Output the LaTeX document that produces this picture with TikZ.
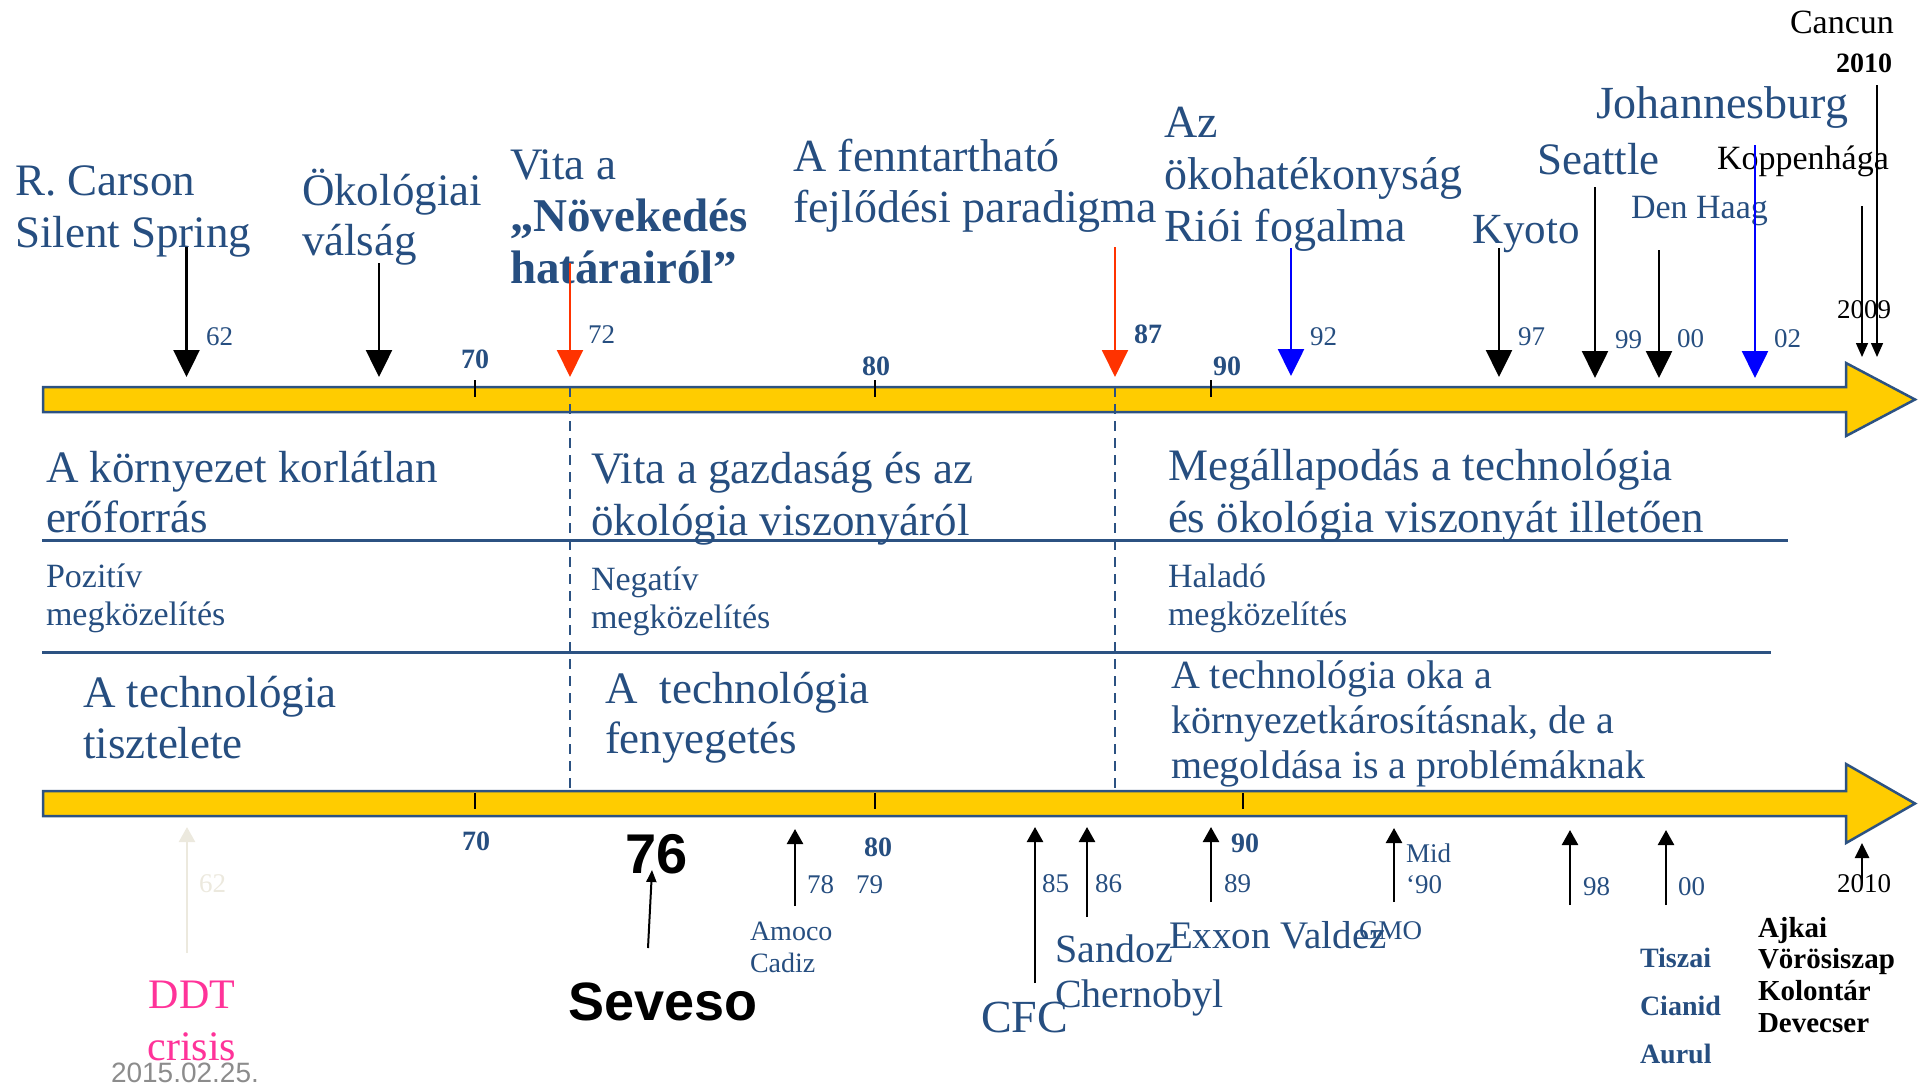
\documentclass[tikz,border=0pt]{standalone}
\usepackage{fontspec}
\setmainfont{Liberation Serif}
\newfontfamily\sansf{Liberation Sans}
\usetikzlibrary{arrows.meta}
\definecolor{tblue}{RGB}{38,78,128}
\definecolor{barline}{RGB}{44,82,130}
\definecolor{baryel}{RGB}{255,204,0}
\definecolor{redarr}{RGB}{255,51,0}
\definecolor{bluearr}{RGB}{0,0,255}
\definecolor{ddtpink}{RGB}{255,51,153}
\definecolor{faint}{RGB}{236,233,222}
\definecolor{dategray}{RGB}{140,140,140}
\begin{document}
\begin{tikzpicture}[x=1pt,y=-1pt,
  lbl/.style={inner sep=0pt, outer sep=0pt, anchor=base west, text=tblue},
  blk/.style={lbl, text=black},
  fXL/.style={font=\fontsize{46}{52}\selectfont},
  fL/.style={font=\fontsize{45}{52}\selectfont},
  fLB/.style={font=\fontsize{47}{52}\selectfont\bfseries},
  fM/.style={font=\fontsize{40}{45}\selectfont},
  fS/.style={font=\fontsize{34}{38}\selectfont},
  fN/.style={font=\fontsize{27}{30}\selectfont},
  fNB/.style={font=\fontsize{28}{30}\selectfont\bfseries},
  fSB/.style={font=\fontsize{28}{32}\selectfont\bfseries},
  fKB/.style={font=\fontsize{29}{32}\selectfont\bfseries},
  bar/.style={fill=baryel, draw=barline, line width=2.5pt, line join=miter},
  hline/.style={draw=barline, line width=3pt},
  dline/.style={draw=barline, line width=2pt, dash pattern=on 10pt off 7pt},
  tick/.style={draw=black, line width=2.5pt},
  toparr/.style={line width=2.5pt, -{Triangle[width=26pt,length=27pt]}},
  redar/.style={draw=redarr, line width=2pt, -{Triangle[width=26pt,length=27pt]}, redarr},
  bluear/.style={draw=bluearr, line width=2.5pt, -{Triangle[width=26pt,length=27pt]}, bluearr},
  thinarr/.style={line width=1.5pt, -{Triangle[width=12pt,length=14pt]}},
  botarr/.style={line width=2.5pt, -{Triangle[width=16pt,length=15pt]}}
]
\useasboundingbox (0,0) rectangle (1918,1085);

% ---- timeline bars
\path[bar] (43,387) -- (1846,387) -- (1846,363) -- (1915,399.5) -- (1846,436) -- (1846,412) -- (43,412) -- cycle;
\path[bar] (43,791) -- (1846,791) -- (1846,764) -- (1915,803.5) -- (1846,843) -- (1846,816) -- (43,816) -- cycle;

% ticks
\draw[tick] (475,380) -- (475,397);
\draw[tick] (875,380) -- (875,397);
\draw[tick] (1211,380) -- (1211,397);
\draw[tick] (475,793) -- (475,809);
\draw[tick] (875,793) -- (875,809);
\draw[tick] (1243,793) -- (1243,809);

% dashed separators and horizontal rules
\coordinate (d1t) at (570,387); \coordinate (d1b) at (570,790);
\coordinate (d2t) at (1115,387); \coordinate (d2b) at (1115,790);
\draw[dline] (d1t) -- (d1b);
\draw[dline] (d2t) -- (d2b);
\coordinate (h1a) at (42,540); \coordinate (h1b) at (1788,540);
\coordinate (h2a) at (42,652); \coordinate (h2b) at (1771,652);
\draw[hline] (h1a) -- (h1b);
\draw[hline] (h2a) -- (h2b);

% ---- top labels
\node[lbl,fL] (carson1) at (15,195) {R. Carson};
\node[lbl,fL] (carson2) at (15,247) {Silent Spring};
\node[lbl,fL] (okol1) at (302,205) {Ökológiai};
\node[lbl,fL] (okol2) at (302,255) {válság};
\node[lbl,fL] (vita1) at (510,179) {Vita a};
\node[lbl,fLB] (vita2) at (510,231) {„Növekedés};
\node[lbl,fLB] (vita3) at (510,283) {határairól”};
\node[lbl,fXL] (fennt1) at (793,171) {A fenntartható};
\node[lbl,fXL] (fennt2) at (793,222) {fejlődési paradigma};
\node[lbl,fXL] (az1) at (1164,137) {Az};
\node[lbl,fXL] (az2) at (1164,189) {ökohatékonyság};
\node[lbl,fXL] (az3) at (1164,241) {Riói fogalma};
\node[lbl,fXL] (johan) at (1596,118) {Johannesburg};
\node[lbl,fL] (seattle) at (1537,174) {Seattle};
\node[lbl,fS] (denhaag) at (1631,218) {Den Haag};
\node[lbl,font=\fontsize{43}{50}\selectfont] (kyoto) at (1472,243) {Kyoto};
\node[blk,fS] (koppen) at (1717,169) {Koppenhága};
\node[blk,fS] (cancun) at (1790,33) {Cancun};
\node[blk,fNB] (y2010t) at (1836,72) {2010};
\node[blk,fN] (y2009) at (1837,318) {2009};

% top year numbers
\node[lbl,fN] (n62) at (206,345) {62};
\node[lbl,fN] (n72) at (588,343) {72};
\node[lbl,fNB] (n87) at (1134,343) {87};
\node[lbl,fN] (n92) at (1310,345) {92};
\node[lbl,fN] (n97) at (1518,345) {97};
\node[lbl,fN] (n99) at (1615,348) {99};
\node[lbl,fN] (n00t) at (1677,347) {00};
\node[lbl,fN] (n02) at (1774,347) {02};
\node[lbl,fNB] (n70t) at (461,368) {70};
\node[lbl,fNB] (n80t) at (862,375) {80};
\node[lbl,fNB] (n90t) at (1213,375) {90};

% top arrows
\coordinate (a62s) at (186.5,247); \coordinate (a62e) at (186.5,377);
\coordinate (aoks) at (379,263);   \coordinate (aoke) at (379,377);
\coordinate (a72s) at (570,263);   \coordinate (a72e) at (570,377);
\coordinate (a87s) at (1115,247);  \coordinate (a87e) at (1115,377);
\coordinate (a92s) at (1291,248);  \coordinate (a92e) at (1291,376);
\coordinate (a97s) at (1499,248);  \coordinate (a97e) at (1499,377);
\coordinate (a99s) at (1595,187);  \coordinate (a99e) at (1595,378);
\coordinate (a00s) at (1659,250);  \coordinate (a00e) at (1659,378);
\coordinate (a02s) at (1755,145);  \coordinate (a02e) at (1755,378);
\coordinate (a09s) at (1862,206);  \coordinate (a09e) at (1862,357);
\coordinate (a10s) at (1877,85);   \coordinate (a10e) at (1877,357);
\draw[toparr] (a62s) -- (a62e);
\draw[toparr] (aoks) -- (aoke);
\draw[redar] (a72s) -- (a72e);
\draw[redar] (a87s) -- (a87e);
\draw[bluear] (a92s) -- (a92e);
\draw[toparr] (a97s) -- (a97e);
\draw[toparr] (a99s) -- (a99e);
\draw[toparr] (a00s) -- (a00e);
\draw[bluear] (a02s) -- (a02e);
\draw[thinarr] (a09s) -- (a09e);
\draw[thinarr] (a10s) -- (a10e);

% ---- middle texts
\node[lbl,fL] (m1a) at (46,482) {A környezet korlátlan};
\node[lbl,fL] (m1b) at (46,532) {erőforrás};
\node[lbl,fL] (m2a) at (591,483) {Vita a gazdaság és az};
\node[lbl,fL] (m2b) at (591,535) {ökológia viszonyáról};
\node[lbl,fL] (m3a) at (1168,480) {Megállapodás a technológia};
\node[lbl,fL] (m3b) at (1168,532) {és ökológia viszonyát illetően};
\node[lbl,fS] (p1a) at (46,587) {Pozitív};
\node[lbl,fS] (p1b) at (46,625) {megközelítés};
\node[lbl,fS] (p2a) at (591,590) {Negatív};
\node[lbl,fS] (p2b) at (591,628) {megközelítés};
\node[lbl,fS] (p3a) at (1168,587) {Haladó};
\node[lbl,fS] (p3b) at (1168,625) {megközelítés};
\node[lbl,fL] (t1a) at (83,707) {A technológia};
\node[lbl,fL] (t1b) at (83,758) {tisztelete};
\node[lbl,fL] (t2a) at (605,703) {A\ \ technológia};
\node[lbl,fL] (t2b) at (605,753) {fenyegetés};
\node[lbl,fM] (t3a) at (1171,688) {A technológia oka a};
\node[lbl,fM] (t3b) at (1171,733) {környezetkárosításnak, de a};
\node[lbl,fM] (t3c) at (1171,778) {megoldása is a problémáknak};

% ---- bottom numbers
\node[lbl,fNB] (n70b) at (462,850) {70};
\node[lbl,fNB] (n80b) at (864,856) {80};
\node[lbl,fNB] (n90b) at (1231,852) {90};
\node[lbl,fN,text=faint] (n62b) at (199,892) {62};
\node[lbl,fN] (n78) at (807,893) {78};
\node[lbl,fN] (n79) at (856,893) {79};
\node[lbl,fN] (n85) at (1042,892) {85};
\node[lbl,fN] (n86) at (1095,892) {86};
\node[lbl,fN] (n89) at (1224,892) {89};
\node[lbl,fN] (nmid) at (1406,862) {Mid};
\node[lbl,fN] (nmid90) at (1406,893) {‘90};
\node[lbl,fN] (n98) at (1583,895) {98};
\node[lbl,fN] (n00b) at (1678,895) {00};
\node[blk,fN] (y2010b) at (1837,892) {2010};
\node[blk,font=\fontsize{56}{60}\selectfont\sansf\bfseries] (n76) at (625,873) {76};

% bottom event labels
\node[lbl,anchor=base,text=ddtpink,font=\fontsize{42}{50}\selectfont] (ddt1) at (192,1008) {DDT};
\node[lbl,anchor=base,text=ddtpink,font=\fontsize{42}{50}\selectfont] (ddt2) at (192,1060) {crisis};
\node[lbl,text=dategray,font=\fontsize{28}{30}\selectfont\sansf] (date) at (111,1082) {2015.02.25.};
\node[blk,font=\fontsize{54}{60}\selectfont\sansf\bfseries] (seveso) at (568,1020) {Seveso};
\node[lbl,font=\fontsize{28}{32}\selectfont] (amoco1) at (750,940) {Amoco};
\node[lbl,font=\fontsize{28}{32}\selectfont] (amoco2) at (750,972) {Cadiz};
\node[lbl,fXL] (cfc) at (981,1032) {CFC};
\node[lbl,fM] (sandoz) at (1055,962) {Sandoz};
\node[lbl,fM] (chern) at (1055,1007) {Chernobyl};
\node[lbl,font=\fontsize{39}{45}\selectfont] (exxon) at (1169,948) {Exxon Valdez};
\node[lbl,fN] (gmo) at (1359,939) {GMO};
\node[lbl,fSB] (tisza1) at (1640,967) {Tiszai};
\node[lbl,fSB] (tisza2) at (1640,1015) {Cianid};
\node[lbl,fSB] (tisza3) at (1640,1063) {Aurul};
\node[blk,fKB] (ajka1) at (1758,937) {Ajkai};
\node[blk,fKB] (ajka2) at (1758,968) {Vörösiszap};
\node[blk,fKB] (ajka3) at (1758,1000) {Kolontár};
\node[blk,fKB] (ajka4) at (1758,1032) {Devecser};

% bottom arrows
\coordinate (b62s) at (187,953);  \coordinate (b62e) at (187,827);
\coordinate (b76s) at (648,948);  \coordinate (b76e) at (652,870);
\coordinate (b78s) at (795,906);  \coordinate (b78e) at (795,829);
\coordinate (b85s) at (1035,983); \coordinate (b85e) at (1035,827);
\coordinate (b86s) at (1087,917); \coordinate (b86e) at (1087,827);
\coordinate (b89s) at (1211,902); \coordinate (b89e) at (1211,827);
\coordinate (bgms) at (1394,902); \coordinate (bgme) at (1394,828);
\coordinate (b98s) at (1570,905); \coordinate (b98e) at (1570,830);
\coordinate (b00s) at (1666,905); \coordinate (b00e) at (1666,830);
\coordinate (b10s) at (1862,883); \coordinate (b10e) at (1862,843);
\draw[botarr,draw=faint,fill=faint] (b62s) -- (b62e);
\draw[line width=2pt,-{Triangle[width=10pt,length=12pt]}] (b76s) -- (b76e);
\draw[botarr] (b78s) -- (b78e);
\draw[botarr] (b85s) -- (b85e);
\draw[botarr] (b86s) -- (b86e);
\draw[botarr] (b89s) -- (b89e);
\draw[botarr] (bgms) -- (bgme);
\draw[botarr] (b98s) -- (b98e);
\draw[botarr] (b00s) -- (b00e);
\draw[line width=2.5pt,-{Triangle[width=14pt,length=15pt]}] (b10s) -- (b10e);
\end{tikzpicture}
\end{document}
